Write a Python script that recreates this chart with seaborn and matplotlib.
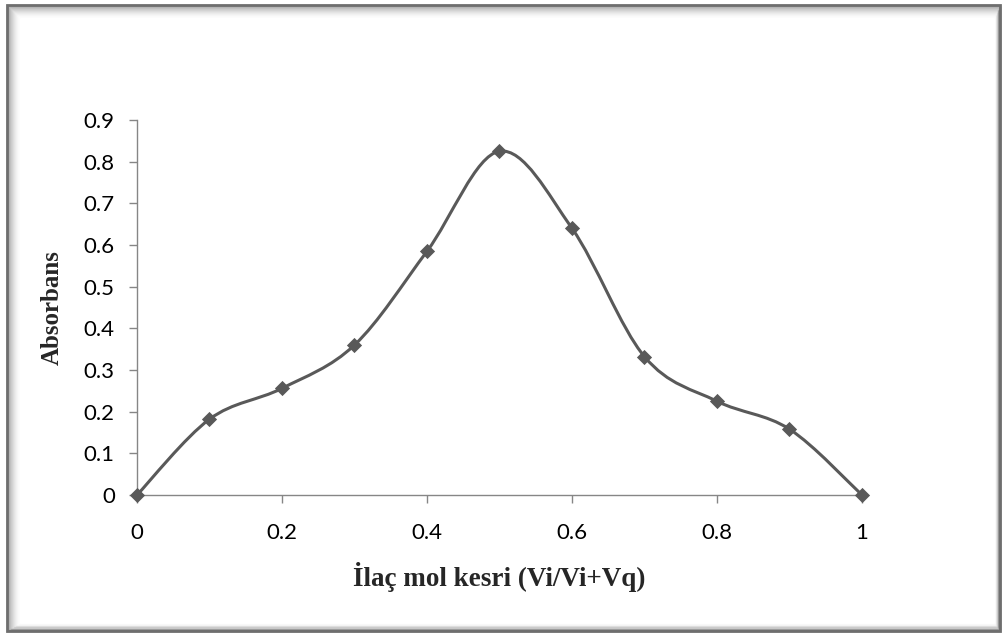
import numpy as np
import pandas as pd
import matplotlib
matplotlib.use("Agg")
import matplotlib.pyplot as plt
import seaborn as sns
from matplotlib.path import Path
from matplotlib.patches import PathPatch, Rectangle

x_vals = [0, 0.1, 0.2, 0.3, 0.4, 0.5, 0.6, 0.7, 0.8, 0.9, 1.0]
absorbance = [0, 0.182, 0.256, 0.36, 0.585, 0.825, 0.64, 0.332, 0.225, 0.158, 0]
x_ticks = [0, 0.2, 0.4, 0.6, 0.8, 1]
x_tick_labels = ["0", "0.2", "0.4", "0.6", "0.8", "1"]
y_ticks = [0, 0.1, 0.2, 0.3, 0.4, 0.5, 0.6, 0.7, 0.8, 0.9]
y_tick_labels = ["0", "0.1", "0.2", "0.3", "0.4", "0.5", "0.6", "0.7", "0.8", "0.9"]
x_label = "İlaç mol kesri (Vi/Vi+Vq)"
y_label = "Absorbans"

sns.set_style("white")
line_color = "#595959"
axis_color = "#868686"

W, H = 1003, 637
fig = plt.figure(figsize=(W / 100, H / 100), dpi=100)

# frame with soft inner shadow
L, B, R, T = 7, 6, 1000, 632
for i in range(14):
    a = 0.30 * (1 - i / 14) ** 2
    fig.patches.append(Rectangle(((L + i) / W, (B + i * 0.6) / H),
                                 (R - L - i * 1.4) / W, (T - B - i * 1.6) / H,
                                 transform=fig.transFigure, fill=False,
                                 edgecolor=(0, 0, 0, a), linewidth=1.0))
fig.patches.append(Rectangle((L / W, B / H), (R - L) / W, (T - B) / H,
                             transform=fig.transFigure, fill=False,
                             edgecolor="#6e6e6e", linewidth=2.0))

ax = fig.add_axes([137 / W, 1 - 495 / H, (862 - 137) / W, (495 - 120) / H])

df = pd.DataFrame({"x": x_vals, "y": absorbance})

# Excel-like smooth curve (Catmull-Rom style bezier through the points)
px = np.array(df["x"], dtype=float)
py = np.array(df["y"], dtype=float)
verts = [(px[0], py[0])]
codes = [Path.MOVETO]
n = len(px)
for i in range(n - 1):
    p0 = np.array([px[max(i - 1, 0)], py[max(i - 1, 0)]])
    p1 = np.array([px[i], py[i]])
    p2 = np.array([px[i + 1], py[i + 1]])
    p3 = np.array([px[min(i + 2, n - 1)], py[min(i + 2, n - 1)]])
    c1 = p1 + (p2 - p0) / 6.0
    c2 = p2 - (p3 - p1) / 6.0
    verts += [tuple(c1), tuple(c2), tuple(p2)]
    codes += [Path.CURVE4, Path.CURVE4, Path.CURVE4]
ax.add_patch(PathPatch(Path(verts, codes), facecolor="none",
                       edgecolor=line_color, linewidth=2.2, zorder=3))

sns.scatterplot(data=df, x="x", y="y", marker="D", s=60, color=line_color,
                edgecolor=line_color, linewidth=0, ax=ax, zorder=4, clip_on=False)

ax.set_xlim(0, 1)
ax.set_ylim(0, 0.9)
ax.set_xticks(x_ticks)
ax.set_xticklabels(x_tick_labels)
ax.set_yticks(y_ticks)
ax.set_yticklabels(y_tick_labels)

for s in ["top", "right"]:
    ax.spines[s].set_visible(False)
for s in ["left", "bottom"]:
    ax.spines[s].set_color(axis_color)
    ax.spines[s].set_linewidth(1.0)

ax.tick_params(axis="both", which="major", bottom=True, left=True, top=False, right=False,
               direction="out", length=6, width=1.0, color=axis_color,
               labelsize=16, labelcolor="black")
ax.tick_params(axis="y", pad=10)
ax.tick_params(axis="x", pad=14)
for lab in ax.get_xticklabels() + ax.get_yticklabels():
    lab.set_fontfamily(["Lato", "DejaVu Sans"])

ax.set_xlabel(x_label, fontsize=19.5, fontweight="bold",
              family=["Liberation Serif", "DejaVu Serif"], labelpad=14)
ax.set_ylabel(y_label, fontsize=18, fontweight="bold",
              family=["Liberation Serif", "DejaVu Serif"], labelpad=14)
ax.grid(False)

fig.savefig("out.png", dpi=100)
